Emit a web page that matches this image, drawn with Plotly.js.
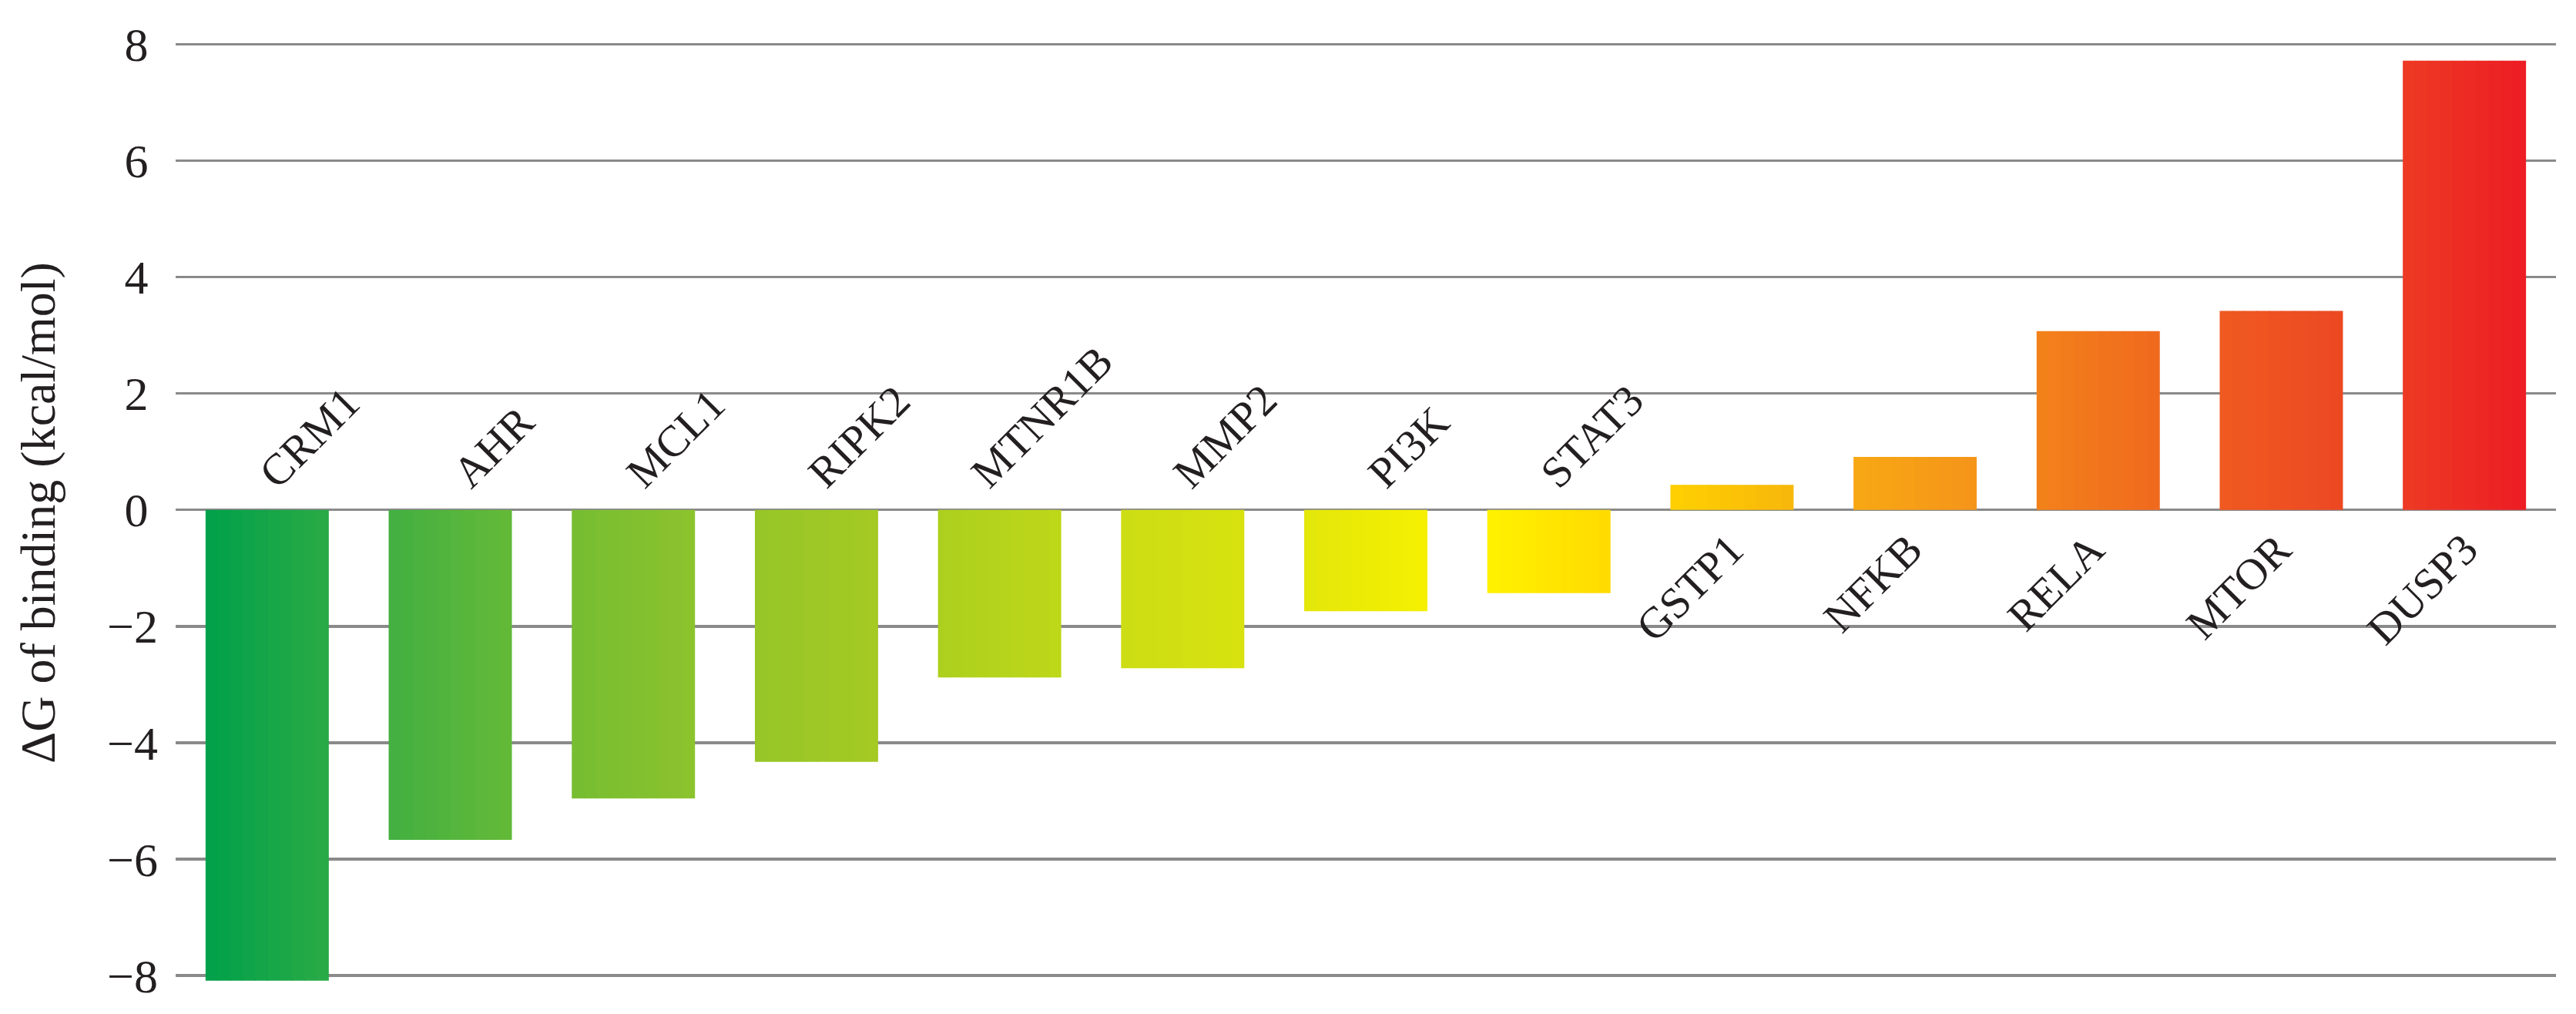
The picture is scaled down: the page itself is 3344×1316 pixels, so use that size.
<!DOCTYPE html>
<html>
<head>
<meta charset="utf-8">
<script src="https://cdn.plot.ly/plotly-3.0.1.min.js"></script>
<style>html,body{margin:0;padding:0;background:#fff;}#chart{width:3344px;height:1316px;}</style>
</head>
<body>
<div id="chart"></div>
<script>
// ---- data ----
const genes = ["CRM1","AHR","MCL1","RIPK2","MTNR1B","MMP2","PI3K","STAT3","GSTP1","NFKB","RELA","MTOR","DUSP3"];
const deltaG = [-8.09, -5.67, -4.96, -4.33, -2.88, -2.72, -1.74, -1.43, 0.43, 0.91, 3.07, 3.42, 7.72];
const yTickVals = [-8, -6, -4, -2, 0, 2, 4, 6, 8];
const yTickText = ["\u22128", "\u22126", "\u22124", "\u22122", "0\u2009", "2\u2009", "4\u2009", "6\u2009", "8\u2009"];
const yTitle = "\u0394G of binding (kcal/mol)";

// ---- style: left / right colour of each bar's horizontal gradient ----
const leftColors  = [[0,160,74],[66,175,66],[118,189,50],[150,198,40],[172,208,30],[204,221,20],[227,230,10],[255,242,0],[255,208,0],[248,168,20],[243,130,26],[240,90,32],[237,58,36]];
const rightColors = [[42,170,70],[100,185,55],[140,195,45],[165,202,35],[190,215,25],[216,226,15],[246,240,0],[255,218,0],[247,183,12],[245,148,25],[240,105,30],[236,72,35],[237,28,36]];

const FONT = "Liberation Serif, Times New Roman, serif";
const TXT = "#231f20";
const barW = 0.673;
const K = 10;

function mix(a, b, t) {
  return "rgb(" + a.map((v, j) => Math.round(v + (b[j] - v) * t)).join(",") + ")";
}

const traces = [];
for (let k = 0; k < K; k++) {
  const t = (k + 0.5) / K;
  const sw = barW / K;
  traces.push({
    type: "bar",
    x: genes,
    y: deltaG,
    width: k < K - 1 ? sw + 0.004 : sw,
    offset: -barW / 2 + k * sw,
    marker: { color: genes.map((g, i) => mix(leftColors[i], rightColors[i], t)), line: { width: 0 } },
    hoverinfo: "skip",
    showlegend: false
  });
}

const annotations = genes.map((g, i) => {
  const neg = deltaG[i] < 0;
  return {
    x: g, y: 0, xref: "x", yref: "y",
    text: g, showarrow: false, textangle: -45,
    xanchor: "center", yanchor: neg ? "bottom" : "top",
    xshift: neg ? 55 : -55, yshift: neg ? 14 : -16,
    font: { family: FONT, size: 57, color: TXT }
  };
});

const layout = {
  width: 3344, height: 1316,
  margin: { l: 228, r: 26, t: 56, b: 41 },
  paper_bgcolor: "#ffffff", plot_bgcolor: "#ffffff",
  barmode: "overlay",
  showlegend: false,
  xaxis: {
    type: "category", range: [-0.5, 12.5],
    showticklabels: false, showgrid: false, zeroline: false, showline: false, ticks: ""
  },
  yaxis: {
    range: [-8.12, 8.02],
    tickvals: yTickVals, ticktext: yTickText,
    showgrid: true, gridcolor: "#8a8a8a", gridwidth: 3.5,
    zeroline: false, showline: false, ticks: "",
    ticklabelstandoff: 22,
    tickfont: { family: FONT, size: 62, color: TXT },
    title: { text: yTitle, font: { family: FONT, size: 64, color: TXT }, standoff: 46 }
  },
  annotations: annotations
};

Plotly.newPlot("chart", traces, layout, { displayModeBar: false, staticPlot: true });
</script>
</body>
</html>
